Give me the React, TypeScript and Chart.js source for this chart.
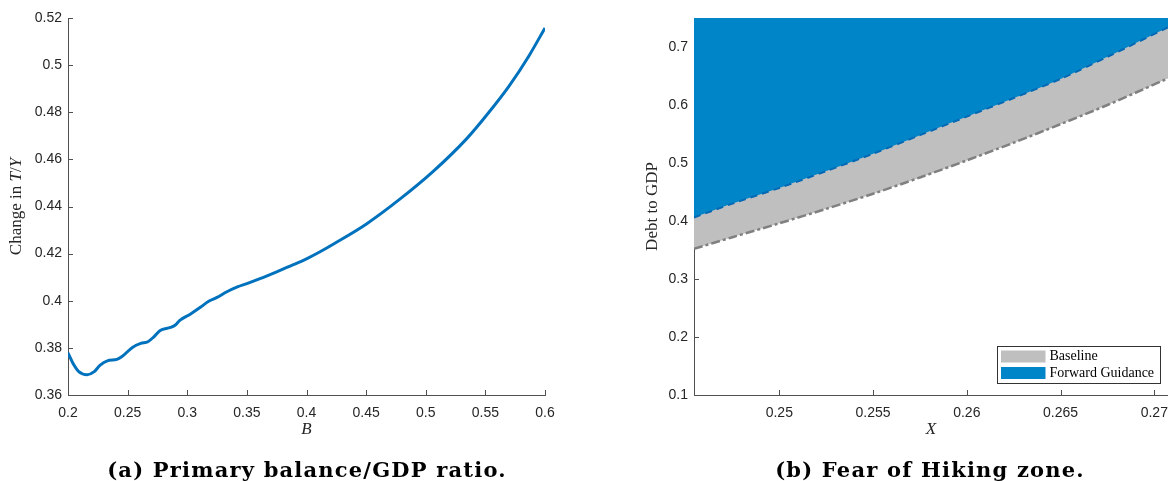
import React, { useEffect, useRef } from 'react';
import { Chart, registerables } from 'chart.js';

Chart.register(...registerables);

// ---------- Panel (a): Primary balance/GDP ratio ----------
const B_VALUES = [
  0.2, 0.205, 0.209, 0.216, 0.222, 0.227, 0.233, 0.241, 0.245, 0.254, 0.261, 0.267,
  0.272, 0.277, 0.286, 0.29, 0.294, 0.3025, 0.311, 0.318, 0.325, 0.332, 0.342, 0.35,
  0.361, 0.375, 0.389, 0.4, 0.411, 0.422, 0.45, 0.478, 0.506, 0.534, 0.553, 0.57, 0.5865, 0.6,
];
const TY_CHANGE = [
  0.3779, 0.3727, 0.3699, 0.3686, 0.3699, 0.3727, 0.3745, 0.3751, 0.3762, 0.3802, 0.3819, 0.3826,
  0.3847, 0.3873, 0.3887, 0.3897, 0.3918, 0.3943, 0.3972, 0.3998, 0.4014, 0.4035, 0.4059, 0.4073,
  0.4094, 0.4123, 0.4153, 0.4178, 0.4207, 0.4239, 0.4325, 0.443, 0.4548, 0.4686, 0.48, 0.4912, 0.5039, 0.5158,
];
const A_X_TICKS = [0.2, 0.25, 0.3, 0.35, 0.4, 0.45, 0.5, 0.55, 0.6];
const A_Y_TICKS = [0.36, 0.38, 0.4, 0.42, 0.44, 0.46, 0.48, 0.5, 0.52];

// ---------- Panel (b): Fear of Hiking zone ----------
const X_VALUES = [0.24545, 0.2475, 0.25, 0.2525, 0.255, 0.2575, 0.26, 0.2625, 0.265, 0.2675, 0.27073];
const BASELINE = [0.352, 0.372, 0.396, 0.421, 0.447, 0.475, 0.5045, 0.535, 0.567, 0.6, 0.646];
const FORWARD_GUIDANCE = [0.406, 0.43, 0.457, 0.486, 0.516, 0.548, 0.58, 0.612, 0.645, 0.683, 0.734];
const B_X_TICKS = [0.25, 0.255, 0.26, 0.265, 0.27];
const B_Y_TICKS = [0.1, 0.2, 0.3, 0.4, 0.5, 0.6, 0.7];

const CAPTION_A = '(a) Primary balance/GDP ratio.';
const CAPTION_B = '(b) Fear of Hiking zone.';

const SERIF = '"Liberation Serif", "Times New Roman", serif';
const SANS = '"Liberation Sans", Arial, Helvetica, sans-serif';
const CAPTION_FONT = 'bold 21px "DejaVu Serif", serif';
const AXIS_COLOR = '#505050';
const TEXT_COLOR = '#262626';

const fmt = (v: number) => String(parseFloat(v.toFixed(4)));

function axis(ticks: number[], min: number, max: number, size: number, horizontal: boolean, title: any) {
  return {
    type: 'linear',
    min,
    max,
    bounds: 'data',
    afterBuildTicks: (s: any) => {
      s.ticks = ticks.map((v) => ({ value: v }));
    },
    afterFit: (s: any) => {
      if (horizontal) s.height = size;
      else s.width = size;
    },
    grid: { display: false, drawTicks: false },
    border: { display: true, color: AXIS_COLOR, width: 1 },
    ticks: {
      font: { family: SANS, size: 14 },
      color: TEXT_COLOR,
      padding: horizontal ? 10 : 6,
      autoSkip: false,
      maxRotation: 0,
      callback: (v: any) => fmt(Number(v)),
    },
    title,
  };
}

const innerTicks = {
  id: 'innerTicks',
  beforeDatasetsDraw(chart: any) {
    const { ctx, chartArea: a, scales } = chart;
    const L = 5;
    ctx.save();
    ctx.strokeStyle = AXIS_COLOR;
    ctx.lineWidth = 1;
    ctx.beginPath();
    scales.x.ticks.forEach((t: any) => {
      const p = Math.round(scales.x.getPixelForValue(t.value)) + 0.5;
      ctx.moveTo(p, a.bottom);
      ctx.lineTo(p, a.bottom - L);
    });
    scales.y.ticks.forEach((t: any) => {
      const p = Math.round(scales.y.getPixelForValue(t.value)) + 0.5;
      ctx.moveTo(a.left, p);
      ctx.lineTo(a.left + L, p);
    });
    ctx.stroke();
    ctx.restore();
  },
};

function captionPlugin(text: string, x: number) {
  return {
    id: 'caption',
    afterDraw(chart: any) {
      const ctx = chart.ctx;
      ctx.save();
      ctx.font = CAPTION_FONT;
      (ctx as any).letterSpacing = '1.2px';
      ctx.fillStyle = '#000';
      ctx.textAlign = 'center';
      ctx.textBaseline = 'alphabetic';
      ctx.fillText(text, x, 477);
      ctx.restore();
    },
  };
}

const yTitleA = {
  id: 'yTitleA',
  afterDraw(chart: any) {
    const { ctx, chartArea: a } = chart;
    const segs: [string, string][] = [
      ['Change in ', `17px ${SERIF}`],
      ['T', `italic 17px ${SERIF}`],
      ['/', `17px ${SERIF}`],
      ['Y', `italic 17px ${SERIF}`],
    ];
    ctx.save();
    let total = 0;
    const widths = segs.map(([t, f]) => {
      ctx.font = f;
      const w = ctx.measureText(t).width;
      total += w;
      return w;
    });
    ctx.translate(17, (a.top + a.bottom) / 2);
    ctx.rotate(-Math.PI / 2);
    ctx.fillStyle = TEXT_COLOR;
    ctx.textBaseline = 'middle';
    ctx.textAlign = 'left';
    let x = -total / 2;
    segs.forEach(([t, f], i) => {
      ctx.font = f;
      ctx.fillText(t, x, 0);
      x += widths[i];
    });
    ctx.restore();
  },
};

const boxLegend = {
  id: 'boxLegend',
  afterDraw(chart: any) {
    const { ctx, chartArea: a } = chart;
    const w = 163;
    const h = 37;
    const x0 = Math.round(a.right - 8 - w) + 0.5;
    const y0 = Math.round(a.bottom - 12 - h) + 0.5;
    ctx.save();
    ctx.fillStyle = '#fff';
    ctx.fillRect(x0, y0, w, h);
    ctx.strokeStyle = '#333';
    ctx.lineWidth = 1;
    ctx.strokeRect(x0, y0, w, h);
    const order = [1, 0];
    order.forEach((di, row) => {
      const ds = chart.data.datasets[di];
      const cy = y0 + 10 + row * 16.5;
      ctx.fillStyle = ds.backgroundColor;
      ctx.fillRect(x0 + 3.5, cy - 6, 44.5, 12);
      ctx.fillStyle = '#000';
      ctx.font = `14px ${SERIF}`;
      ctx.textBaseline = 'middle';
      ctx.textAlign = 'left';
      ctx.fillText(ds.label, x0 + 52, cy);
    });
    ctx.restore();
  },
};

function makeChartA(canvas: HTMLCanvasElement) {
  return new Chart(canvas, {
    type: 'line',
    data: {
      datasets: [
        {
          label: 'Change in T/Y',
          data: B_VALUES.map((b, i) => ({ x: b, y: TY_CHANGE[i] })),
          borderColor: '#0072BD',
          borderWidth: 3,
          pointRadius: 0,
          cubicInterpolationMode: 'monotone',
          fill: false,
        },
      ],
    },
    options: {
      responsive: false,
      animation: false,
      events: [],
      layout: { padding: { top: 18, right: 55, bottom: 41, left: 0 } },
      plugins: { legend: { display: false }, tooltip: { enabled: false } },
      scales: {
        x: axis(A_X_TICKS, 0.2, 0.6, 45, true, {
          display: true,
          text: 'B',
          color: TEXT_COLOR,
          font: { family: SERIF, size: 17, style: 'italic' },
          padding: 0,
        }),
        y: axis(A_Y_TICKS, 0.36, 0.52, 68, false, { display: false }),
      },
    } as any,
    plugins: [innerTicks, yTitleA, captionPlugin(CAPTION_A, 307)],
  } as any);
}

function makeChartB(canvas: HTMLCanvasElement) {
  return new Chart(canvas, {
    type: 'line',
    data: {
      datasets: [
        {
          label: 'Forward Guidance',
          data: X_VALUES.map((x, i) => ({ x, y: FORWARD_GUIDANCE[i] })),
          borderColor: '#0068B4',
          borderWidth: 2,
          borderDash: [7, 5],
          backgroundColor: 'rgb(0,134,200)',
          fill: 'end',
          pointRadius: 0,
          tension: 0.3,
        },
        {
          label: 'Baseline',
          data: X_VALUES.map((x, i) => ({ x, y: BASELINE[i] })),
          borderColor: '#808080',
          borderWidth: 2.5,
          borderDash: [9, 3, 3, 3],
          backgroundColor: 'rgb(191,191,191)',
          fill: 'end',
          pointRadius: 0,
          tension: 0.3,
        },
      ],
    },
    options: {
      responsive: false,
      animation: false,
      events: [],
      layout: { padding: { top: 18, right: 32, bottom: 41, left: 0 } },
      plugins: { legend: { display: false }, tooltip: { enabled: false } },
      scales: {
        x: axis(B_X_TICKS, 0.24545, 0.27073, 45, true, {
          display: true,
          text: 'X',
          color: TEXT_COLOR,
          font: { family: SERIF, size: 17, style: 'italic' },
          padding: 0,
        }),
        y: axis(B_Y_TICKS, 0.1, 0.75, 94, false, {
          display: true,
          text: 'Debt to GDP',
          color: TEXT_COLOR,
          font: { family: SERIF, size: 17 },
          padding: { top: 42, bottom: 0 },
        }),
      },
    } as any,
    plugins: [innerTicks, boxLegend, captionPlugin(CAPTION_B, 330)],
  } as any);
}

export default function App() {
  const refA = useRef<HTMLCanvasElement>(null);
  const refB = useRef<HTMLCanvasElement>(null);

  useEffect(() => {
    const a = refA.current ? makeChartA(refA.current) : null;
    const b = refB.current ? makeChartB(refB.current) : null;
    return () => {
      a?.destroy();
      b?.destroy();
    };
  }, []);

  return (
    <div
      style={{
        position: 'absolute',
        left: 0,
        top: 0,
        width: 1168,
        height: 481,
        overflow: 'hidden',
        background: '#fff',
      }}
    >
      <canvas ref={refA} width={600} height={481} style={{ position: 'absolute', left: 0, top: 0 }} />
      <canvas ref={refB} width={600} height={481} style={{ position: 'absolute', left: 600, top: 0 }} />
    </div>
  );
}
